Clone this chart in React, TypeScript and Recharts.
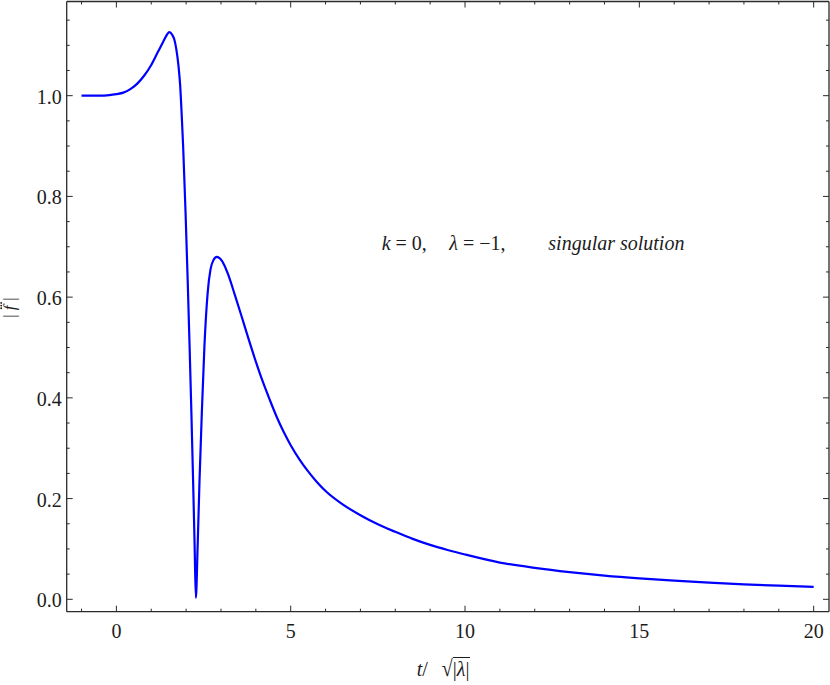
import React from "react";
import { LineChart, Line, XAxis, YAxis } from "recharts";

// |f'''| against t / sqrt(|lambda|)
const tValues = [
  -1.0, -0.5, -0.2, 0.0, 0.2, 0.4, 0.6, 0.8, 1.0, 1.2, 1.35, 1.45, 1.52, 1.6,
  1.66, 1.72, 1.78, 1.83, 1.875, 1.915, 1.985, 2.045, 2.1, 2.152, 2.2, 2.245,
  2.28, 2.33, 2.385, 2.45, 2.525, 2.62, 2.7, 2.78, 2.88, 2.98, 3.1, 3.2, 3.4,
  3.6, 3.8, 4.0, 4.2, 4.4, 4.6, 4.8, 5.0, 5.25, 5.5, 5.75, 6.0, 6.5, 7.0, 7.5,
  8.0, 8.5, 9.0, 9.5, 10.0, 11.0, 12.0, 13.0, 14.0, 15.0, 16.0, 17.0, 18.0,
  19.0, 20.0,
];
const fValues = [
  1.0, 1.0, 1.001, 1.003, 1.006, 1.013, 1.024, 1.04, 1.061, 1.088, 1.108,
  1.121, 1.126, 1.121, 1.112, 1.092, 1.06, 1.02, 0.96, 0.899, 0.766, 0.634,
  0.502, 0.369, 0.237, 0.104, 0.003, 0.104, 0.237, 0.369, 0.502, 0.61, 0.655,
  0.673, 0.68, 0.676, 0.663, 0.646, 0.604, 0.56, 0.515, 0.472, 0.432, 0.396,
  0.362, 0.332, 0.306, 0.278, 0.254, 0.233, 0.215, 0.188, 0.167, 0.149, 0.134,
  0.12, 0.108, 0.098, 0.089, 0.073, 0.0625, 0.054, 0.047, 0.0415, 0.037,
  0.033, 0.0298, 0.027, 0.0245,
];

const xMajorTicks = [0, 5, 10, 15, 20];
const xMinorTicks = [-1, 1, 2, 3, 4, 6, 7, 8, 9, 11, 12, 13, 14, 16, 17, 18, 19];
const yMajorTicks = [0, 0.2, 0.4, 0.6, 0.8, 1.0];
const yMinorTicks = [
  0.05, 0.1, 0.15, 0.25, 0.3, 0.35, 0.45, 0.5, 0.55, 0.65, 0.7, 0.75, 0.85,
  0.9, 0.95, 1.05, 1.1, 1.15,
];

const data = tValues.map((t, i) => ({ t, f: fValues[i] }));
const xTicks = [...xMajorTicks, ...xMinorTicks].sort((a, b) => a - b);
const yTicks = [...yMajorTicks, ...yMinorTicks].sort((a, b) => a - b);

const FONT = '"Liberation Serif", "Times New Roman", serif';
const INK = "#1c1c1c";
const AXIS = "#2a2a2a";

const XTick = (props: any) => {
  const { x, y, payload, side } = props;
  const major = xMajorTicks.includes(payload.value);
  const len = major ? 6 : 3;
  const dir = side === "bottom" ? -1 : 1;
  return (
    <g>
      <line x1={x} x2={x} y1={y} y2={y + dir * len} stroke={AXIS} strokeWidth={1} />
      {side === "bottom" && major && (
        <text x={x} y={y + 26.5} textAnchor="middle" fontFamily={FONT} fontSize={20} fill={INK}>
          {payload.value}
        </text>
      )}
    </g>
  );
};

const YTick = (props: any) => {
  const { x, y, payload, side } = props;
  const major = yMajorTicks.includes(payload.value);
  const len = major ? 6 : 3;
  const dir = side === "left" ? 1 : -1;
  return (
    <g>
      <line x1={x} x2={x + dir * len} y1={y} y2={y} stroke={AXIS} strokeWidth={1} />
      {side === "left" && major && (
        <text x={x - 5} y={y + 8} textAnchor="end" fontFamily={FONT} fontSize={20} fill={INK}>
          {payload.value.toFixed(1)}
        </text>
      )}
    </g>
  );
};

const axisLine = { stroke: AXIS, strokeWidth: 1.3 };
const xDomain = [-1.425, 20.44];
const yDomain = [-0.0246, 1.187];

const textBase: React.CSSProperties = {
  position: "absolute",
  fontFamily: FONT,
  fontSize: 20,
  lineHeight: "20px",
  color: INK,
  whiteSpace: "nowrap",
};

export default function App() {
  return (
    <div style={{ position: "absolute", left: 0, top: 0, width: 830, height: 685, background: "#fff" }}>
      <LineChart width={830} height={685} data={data} margin={{ top: 0, right: 0, bottom: 0, left: 0 }}>
        <XAxis
          xAxisId="b"
          dataKey="t"
          type="number"
          orientation="bottom"
          domain={xDomain}
          allowDataOverflow
          ticks={xTicks}
          interval={0}
          height={73.3}
          tickSize={0}
          tickMargin={0}
          tickLine={false}
          axisLine={axisLine}
          tick={(p: any) => <XTick {...p} side="bottom" />}
        />
        <XAxis
          xAxisId="t"
          dataKey="t"
          type="number"
          orientation="top"
          domain={xDomain}
          allowDataOverflow
          ticks={xTicks}
          interval={0}
          height={1.5}
          tickSize={0}
          tickMargin={0}
          tickLine={false}
          axisLine={axisLine}
          tick={(p: any) => <XTick {...p} side="top" />}
        />
        <YAxis
          yAxisId="l"
          type="number"
          orientation="left"
          domain={yDomain}
          allowDataOverflow
          ticks={yTicks}
          interval={0}
          width={66.7}
          tickSize={0}
          tickMargin={0}
          tickLine={false}
          axisLine={axisLine}
          tick={(p: any) => <YTick {...p} side="left" />}
        />
        <YAxis
          yAxisId="r"
          type="number"
          orientation="right"
          domain={yDomain}
          allowDataOverflow
          ticks={yTicks}
          interval={0}
          width={1}
          tickSize={0}
          tickMargin={0}
          tickLine={false}
          axisLine={axisLine}
          tick={(p: any) => <YTick {...p} side="right" />}
        />
        <Line
          xAxisId="t"
          yAxisId="r"
          dataKey="f"
          type="monotone"
          stroke="none"
          dot={false}
          activeDot={false}
          isAnimationActive={false}
        />
        <Line
          xAxisId="b"
          yAxisId="l"
          dataKey="f"
          type="monotone"
          stroke="#0000ff"
          strokeWidth={2.2}
          dot={false}
          activeDot={false}
          isAnimationActive={false}
        />
      </LineChart>

      {/* annotation */}
      <span style={{ ...textBase, top: 233.3, left: 381.7 }}>
        <i>k</i> = 0,
      </span>
      <span style={{ ...textBase, top: 233.3, left: 449.3 }}>
        <i>λ</i> = −1,
      </span>
      <span style={{ ...textBase, top: 233.3, left: 548.3 }}>
        <i>singular solution</i>
      </span>

      {/* x label */}
      <span style={{ ...textBase, top: 659.3, left: 416.7 }}>
        <i>t</i>/
        <span
          style={{
            display: "inline-block",
            marginLeft: 14,
            transform: "scaleY(1.15)",
            transformOrigin: "50% 80%",
          }}
        >
          √
        </span>
        <span style={{ borderTop: `1.2px solid ${INK}` }}>
          |<i>λ</i>|
        </span>
      </span>

      {/* y label: |f'''| written with three dots over the f */}
      <svg width={30} height={685} style={{ position: "absolute", left: 0, top: 0 }}>
        <g transform="translate(14.5, 307.5) rotate(-90)" fontFamily={FONT} fill={INK}>
          <text x={-8.5} y={0} fontSize={17} textAnchor="middle">|</text>
          <text x={-0.5} y={0} fontSize={17} fontStyle="italic" textAnchor="middle">f</text>
          <text x={8.5} y={0} fontSize={17} textAnchor="middle">|</text>
          <circle cx={-0.8} cy={-13.3} r={0.95} />
          <circle cx={1.9} cy={-13.3} r={0.95} />
          <circle cx={4.6} cy={-13.3} r={0.95} />
        </g>
      </svg>
    </div>
  );
}
